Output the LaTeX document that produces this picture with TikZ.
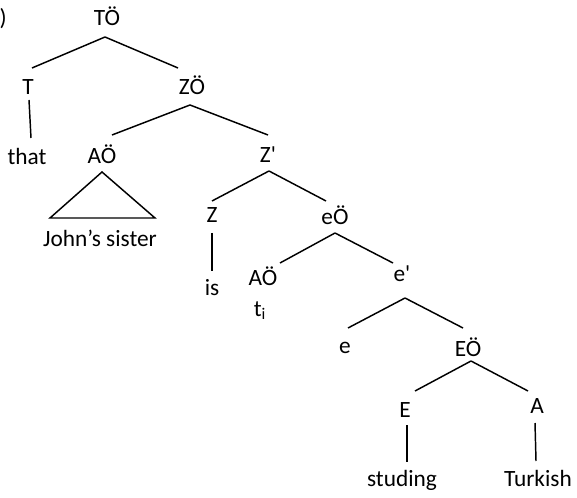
\documentclass[tikz,border=0pt]{standalone}
\usepackage{fontspec}
\setmainfont{Carlito}
\usetikzlibrary{calc}

\begin{document}
\begin{tikzpicture}[x=0.75pt,y=0.75pt,yscale=-1,xscale=1,
  lbl/.style={anchor=base,inner sep=0.75pt,font=\fontsize{17.5}{21}\selectfont},
  branch/.style={line width=1.1pt}]
\useasboundingbox (0,0) rectangle (577,498);

% Text Node
\node [lbl,anchor=base east] (ex) at (8,26) {)};
% Text Node
\node [lbl] (TO) at (107,26) {TÖ};
% Text Node
\node [lbl] (T) at (28,95) {T};
% Text Node
\node [lbl] (ZO) at (192,95) {ZÖ};
% Text Node
\node [lbl] (that) at (27,165) {that};
% Text Node
\node [lbl] (AO) at (102,164) {AÖ};
% Text Node
\node [lbl] (Zbar) at (268,163) {Z\textquotesingle};
% Text Node
\node [lbl] (JS) at (100,247) {John’s sister};
% Text Node
\node [lbl] (Z) at (212,223) {Z};
% Text Node
\node [lbl] (eO) at (335,225) {eÖ};
% Text Node
\node [lbl] (is) at (212,296) {is};
% Text Node
\node [lbl] (AOt) at (263,286) {AÖ};
% Text Node
\node [lbl] (ti) at (260,316) {t\textsubscript{i}};
% Text Node
\node [lbl] (ebar) at (402,282) {e\textquotesingle};
% Text Node
\node [lbl] (e) at (345,353) {e};
% Text Node
\node [lbl] (EO) at (468,356) {EÖ};
% Text Node
\node [lbl] (E) at (405,417) {E};
% Text Node
\node [lbl] (A) at (537,413) {A};
% Text Node
\node [lbl] (stud) at (402,486) {studing};
% Text Node
\node [lbl] (turk) at (538,486) {Turkish};

%Straight Lines
\draw [branch] ($(TO.base)+(-2,11)$) -- ($(T.base)+(4,-27)$);
\draw [branch] ($(TO.base)+(-2,11)$) -- ($(ZO.base)+(-14,-27)$);
\draw [branch] ($(T.base)+(1,5)$) -- ($(that.base)+(4,-27)$);
\draw [branch] ($(ZO.base)+(-2,10)$) -- ($(AO.base)+(10,-29)$);
\draw [branch] ($(ZO.base)+(-2,10)$) -- ($(Zbar.base)+(0,-28)$);
%Shape: Triangle
\draw [branch] ($(AO.base)+(0,8)$) -- ($(JS.base)+(-50,-29)$) -- ($(JS.base)+(55,-29)$) -- cycle;
\draw [branch] ($(Zbar.base)+(1,8)$) -- ($(Z.base)+(0,-22)$);
\draw [branch] ($(Zbar.base)+(1,8)$) -- ($(eO.base)+(-9,-24)$);
\draw [branch] ($(Z.base)+(0,10)$) -- ($(is.base)+(0,-25)$);
\draw [branch] ($(eO.base)+(0,8)$) -- ($(AOt.base)+(17,-23)$);
\draw [branch] ($(eO.base)+(0,8)$) -- ($(ebar.base)+(-9,-19)$);
\draw [branch] ($(ebar.base)+(3,16)$) -- ($(e.base)+(3,-25)$);
\draw [branch] ($(ebar.base)+(3,16)$) -- ($(EO.base)+(-5,-28)$);
\draw [branch] ($(EO.base)+(3,5)$) -- ($(E.base)+(10,-26)$);
\draw [branch] ($(EO.base)+(3,5)$) -- ($(A.base)+(-9,-22)$);
\draw [branch] ($(E.base)+(2,8)$) -- ($(stud.base)+(5,-24)$);
\draw [branch] ($(A.base)+(-2,10)$) -- ($(turk.base)+(-2,-25)$);

\end{tikzpicture}
\end{document}
